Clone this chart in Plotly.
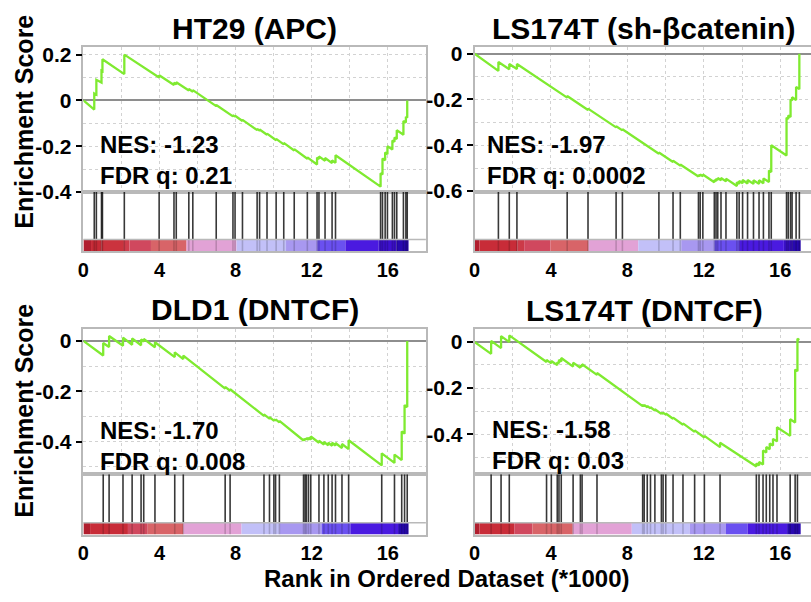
import plotly.graph_objects as go

# ---------------- data ----------------
titles = ["HT29 (APC)", "LS174T (sh-βcatenin)", "DLD1 (DNTCF)", "LS174T (DNTCF)"]
nes_labels = ["NES: -1.23", "NES: -1.97", "NES: -1.70", "NES: -1.58"]
fdr_labels = ["FDR q: 0.21", "FDR q: 0.0002", "FDR q: 0.008", "FDR q: 0.03"]

x_tick_vals = [0, 4, 8, 12, 16]
x_tick_text = ["0", "4", "8", "12", "16"]
y_ticks_p1 = [0.2, 0, -0.2, -0.4]
y_ticks_p2 = [0, -0.2, -0.4, -0.6]
y_ticks_p3 = [0, -0.2, -0.4]
y_ticks_p4 = [0, -0.2, -0.4]
y_text_p1 = ["0.2", "0", "-0.2", "-0.4"]
y_text_p2 = ["0", "-0.2", "-0.4", "-0.6"]
y_text_p3 = ["0", "-0.2", "-0.4"]
y_text_p4 = ["0", "-0.2", "-0.4"]

# gene-set hit positions (rank / 1000) and running ES just before / after each hit
p1_hits = [0.57, 0.68, 0.95, 1.00, 2.15, 3.98, 4.76, 4.88, 5.54, 5.75, 6.98, 7.86, 7.97, 8.36,
           9.13, 9.26, 9.65, 10.13, 10.53, 11.08, 11.77, 12.28, 12.38, 12.70, 13.07, 13.25,
           15.62, 15.72, 15.86, 15.98, 16.24, 16.35, 16.47, 16.82, 16.95, 17.02]
p1_pre = [-0.04, 0.025, 0.078, 0.128, 0.115, 0.10, 0.067, 0.070, 0.043, 0.038, -0.025, -0.07, -0.071, -0.09,
          -0.13, -0.132, -0.15, -0.174, -0.192, -0.219, -0.255, -0.28, -0.256, -0.264, -0.274, -0.273,
          -0.377, -0.324, -0.262, -0.235, -0.215, -0.181, -0.169, -0.15, -0.097, -0.076]
p1_post = [0.03, 0.09, 0.13, 0.18, 0.20, 0.11, 0.077, 0.079, 0.05, 0.045, -0.02, -0.065, -0.067, -0.085,
           -0.125, -0.127, -0.145, -0.168, -0.186, -0.213, -0.249, -0.25, -0.245, -0.252, -0.262, -0.24,
           -0.318, -0.254, -0.228, -0.20, -0.175, -0.162, -0.13, -0.09, -0.072, 0.0]

p2_hits = [1.25, 1.82, 2.22, 4.85, 5.94, 7.41, 7.74, 9.65, 10.39, 10.77, 11.72, 11.81, 11.95,
           12.55, 12.64, 12.73, 12.90, 13.16, 13.73, 13.85, 14.03, 14.29, 14.60, 14.89, 15.12,
           15.41, 15.53, 16.33, 16.42, 16.54, 16.62, 16.83, 17.00]
p2_pre = [-0.075, -0.068, -0.067, -0.192, -0.246, -0.322, -0.335, -0.437, -0.473, -0.489, -0.537, -0.535, -0.536,
          -0.562, -0.557, -0.552, -0.553, -0.558, -0.578, -0.569, -0.566, -0.567, -0.569, -0.569, -0.566,
          -0.561, -0.517, -0.445, -0.285, -0.277, -0.204, -0.202, -0.155]
p2_post = [-0.036, -0.045, -0.045, -0.185, -0.24, -0.317, -0.33, -0.432, -0.468, -0.484, -0.53, -0.528, -0.528,
           -0.552, -0.547, -0.543, -0.543, -0.546, -0.562, -0.556, -0.552, -0.552, -0.553, -0.553, -0.545,
           -0.51, -0.40, -0.28, -0.27, -0.20, -0.19, -0.145, 0.0]

p3_hits = [1.04, 1.35, 2.08, 2.56, 3.03, 3.17, 3.76, 4.80, 5.25, 7.45, 7.71, 9.49, 9.78, 10.01, 10.10,
           10.30, 11.57, 11.65, 11.72, 11.83, 11.95, 12.38, 12.64, 12.87, 13.07, 13.25, 13.59, 13.94,
           15.68, 16.35, 16.73, 16.88, 17.02]
p3_pre = [-0.058, -0.024, -0.019, -0.015, -0.017, -0.002, -0.025, -0.064, -0.072, -0.19, -0.198, -0.298, -0.309, -0.317, -0.317,
          -0.324, -0.396, -0.395, -0.393, -0.393, -0.392, -0.405, -0.412, -0.415, -0.417, -0.416, -0.426, -0.43,
          -0.495, -0.485, -0.474, -0.369, -0.263]
p3_post = [-0.008, 0.02, 0.013, 0.01, 0.006, 0.008, -0.005, -0.045, -0.058, -0.183, -0.192, -0.292, -0.303, -0.312, -0.312,
           -0.318, -0.39, -0.388, -0.386, -0.385, -0.38, -0.397, -0.402, -0.405, -0.405, -0.406, -0.41, -0.395,
           -0.447, -0.452, -0.36, -0.255, 0.0]

p4_hits = [0.87, 1.39, 1.82, 3.77, 4.02, 4.33, 4.42, 4.54, 5.16, 5.54, 5.63, 6.41, 8.80, 8.88, 9.04,
           9.21, 9.44, 9.78, 9.87, 10.01, 10.39, 10.91, 11.52, 12.03, 12.85, 14.75, 14.89, 15.10,
           15.27, 15.45, 15.62, 15.83, 16.52, 16.78, 16.90]
p4_pre = [-0.052, -0.027, -0.001, -0.087, -0.093, -0.101, -0.093, -0.085, -0.107, -0.112, -0.107, -0.143, -0.278, -0.278, -0.283,
          -0.288, -0.297, -0.312, -0.312, -0.315, -0.333, -0.359, -0.39, -0.414, -0.456, -0.54, -0.535, -0.531,
          -0.479, -0.465, -0.449, -0.431, -0.407, -0.349, -0.127]
p4_post = [0.004, 0.025, 0.028, -0.078, -0.083, -0.088, -0.078, -0.07, -0.09, -0.102, -0.097, -0.135, -0.273, -0.273, -0.278,
           -0.283, -0.292, -0.307, -0.307, -0.31, -0.328, -0.353, -0.383, -0.407, -0.437, -0.527, -0.52, -0.47,
           -0.455, -0.44, -0.42, -0.37, -0.335, -0.12, 0.013]
p4_tail_x = [17.0]
p4_tail_y = [0.008]

# ranked-list colour bar segments (edges in rank/1000)
p1_cb_edges = [0, 0.4, 0.95, 2.13, 2.42, 3.55, 5.42, 8.05, 10.65, 12.29, 13.77, 15.5, 16.45, 17.09]
p1_cb_colors = ["#b01e2e", "#c62a36", "#cb333e", "#cf3d4c", "#d0485e", "#d86468", "#e2a2d6",
                "#c2c0f8", "#a898f0", "#6a50f0", "#4a1ae0", "#3e10d0", "#2808b0"]
p2_cb_edges = [0, 0.26, 2.25, 2.6, 3.98, 5.97, 8.57, 10.82, 12.55, 13.85, 16.19, 16.62, 17.07]
p2_cb_colors = ["#b01e2e", "#c82c38", "#cc3a48", "#d0485e", "#d86468", "#e2a2d6", "#c2c0f8",
                "#a898f0", "#6a50f0", "#4a1ae0", "#3a10c8", "#2808b0"]
p3_cb_edges = [0, 0.35, 2.34, 3.38, 5.25, 8.31, 10.3, 12.52, 14.03, 16.54, 17.09]
p3_cb_colors = ["#b01e2e", "#c82c38", "#d0485e", "#d86468", "#e2a2d6", "#c2c0f8", "#a898f0",
                "#6a50f0", "#4a1ae0", "#2808b0"]
p4_cb_edges = [0, 0.26, 2.08, 3.03, 5.14, 8.23, 11.26, 13.16, 14.29, 16.36, 17.07]
p4_cb_colors = ["#b01e2e", "#c82c38", "#d0485e", "#d86468", "#e2a2d6", "#c2c0f8", "#a898f0",
                "#6a50f0", "#4a1ae0", "#2808b0"]

# ---------------- layout / styling ----------------
W, H = 811, 602
FONT = "Liberation Sans, Arial, sans-serif"
GREEN = "#7fea30"
FRAME = "#b9b9b9"
GRID = "#d2d2d2"

def fx(p):
    return p / W

def fy(p):
    return 1 - p / H

panels = [
    dict(hits=p1_hits, pre=p1_pre, post=p1_post, tx=[], ty=[], edges=p1_cb_edges, cols=p1_cb_colors,
         yt=y_ticks_p1, ytt=y_text_p1, x0=78, x1=423, top=43, bot=192, cbt=241, sb=253,
         xr=[0, 18], yr=[-0.4, 0.234], mirror=True, tcx=250, tcy=24, nx=93, ny=159),
    dict(hits=p2_hits, pre=p2_pre, post=p2_post, tx=[], ty=[], edges=p2_cb_edges, cols=p2_cb_colors,
         yt=y_ticks_p2, ytt=y_text_p2, x0=472, x1=811, top=43, bot=192, cbt=241, sb=253,
         xr=[0, 17.61], yr=[-0.604, 0.03], mirror=False, tcx=642, tcy=24, nx=483, ny=159),
    dict(hits=p3_hits, pre=p3_pre, post=p3_post, tx=[], ty=[], edges=p3_cb_edges, cols=p3_cb_colors,
         yt=y_ticks_p3, ytt=y_text_p3, x0=78, x1=423, top=333, bot=482, cbt=532, sb=544,
         xr=[0, 18], yr=[-0.53, 0.047], mirror=True, tcx=251, tcy=313, nx=93, ny=453),
    dict(hits=p4_hits, pre=p4_pre, post=p4_post, tx=p4_tail_x, ty=p4_tail_y, edges=p4_cb_edges, cols=p4_cb_colors,
         yt=y_ticks_p4, ytt=y_text_p4, x0=472, x1=811, top=333, bot=482, cbt=532, sb=544,
         xr=[0, 17.61], yr=[-0.573, 0.055], mirror=False, tcx=643, tcy=314, nx=488, ny=452),
]

fig = go.Figure()
layout = dict(
    width=W, height=H, margin=dict(l=0, r=0, t=0, b=0),
    paper_bgcolor="white", plot_bgcolor="white", showlegend=False,
    font=dict(family=FONT, color="black"), barmode="overlay",
)
annotations = []
shapes = []

for i, p in enumerate(panels):
    ea = 2 * i + 1
    sa = 2 * i + 2
    ex, ey = f"x{ea}", f"y{ea}"
    sx, sy = f"x{sa}", f"y{sa}"
    cbf = (p["sb"] - p["cbt"]) / (p["sb"] - p["bot"])

    # running enrichment score
    xs, ys = [0.0], [0.0]
    for h, a, b in zip(p["hits"], p["pre"], p["post"]):
        xs += [h, h]
        ys += [a, b]
    xs += p["tx"]
    ys += p["ty"]
    fig.add_trace(go.Scatter(x=xs, y=ys, mode="lines", line=dict(color=GREEN, width=2.3),
                             xaxis=ex, yaxis=ey, hoverinfo="skip"))

    # colour bar
    e = p["edges"]
    fig.add_trace(go.Bar(x=e[:-1], width=[e[k + 1] - e[k] for k in range(len(e) - 1)], offset=0,
                         y=[cbf] * (len(e) - 1), base=0, marker=dict(color=p["cols"], line=dict(width=0)),
                         xaxis=sx, yaxis=sy, hoverinfo="skip"))

    # hit lines
    hx, hy, cx, cy = [], [], [], []
    for h in p["hits"]:
        hx += [h, h, None]
        hy += [cbf, 1, None]
        cx += [h, h, None]
        cy += [0, cbf, None]
    fig.add_trace(go.Scatter(x=hx, y=hy, mode="lines", line=dict(color="rgba(0,0,0,0.78)", width=1.6),
                             xaxis=sx, yaxis=sy, hoverinfo="skip"))
    fig.add_trace(go.Scatter(x=cx, y=cy, mode="lines", line=dict(color="rgba(0,0,0,0.18)", width=1.6),
                             xaxis=sx, yaxis=sy, hoverinfo="skip"))

    dom_x = [fx(p["x0"]), fx(p["x1"])]
    layout[f"xaxis{ea}"] = dict(domain=dom_x, anchor=ey, range=p["xr"], showticklabels=False, ticks="",
                                showgrid=True, tick0=0, dtick=2, gridcolor=GRID, griddash="dot", gridwidth=1,
                                zeroline=False, showline=True, mirror=True, linecolor=FRAME, linewidth=1.5)
    layout[f"yaxis{ea}"] = dict(domain=[fy(p["bot"]), fy(p["top"])], anchor=ex, range=p["yr"],
                                tickmode="array", tickvals=p["yt"], ticktext=p["ytt"],
                                ticks="outside", ticklen=6, tickwidth=2, tickcolor="black",
                                tickfont=dict(family=FONT, size=21, color="black", weight="bold"),
                                showgrid=True, gridcolor=GRID, griddash="dot", gridwidth=1,
                                minor=dict(tickmode="linear", tick0=0, dtick=0.1, showgrid=True,
                                           gridcolor=GRID, griddash="dot", gridwidth=1, ticks=""),
                                zeroline=True, zerolinecolor="#8e8e8e", zerolinewidth=1.5,
                                showline=True, mirror=p["mirror"], linecolor=FRAME, linewidth=1.5)
    layout[f"xaxis{sa}"] = dict(domain=dom_x, anchor=sy, range=p["xr"], tickmode="array",
                                tickvals=x_tick_vals, ticktext=x_tick_text, ticks="",
                                tickfont=dict(family=FONT, size=20, color="black", weight="bold"),
                                showgrid=False, zeroline=False, showline=True, mirror=True,
                                linecolor=FRAME, linewidth=1.5)
    layout[f"yaxis{sa}"] = dict(domain=[fy(p["sb"]), fy(p["bot"])], anchor=sx, range=[0, 1],
                                showticklabels=False, ticks="", showgrid=False, zeroline=False,
                                showline=True, mirror=p["mirror"], linecolor=FRAME, linewidth=1.5)

    shapes.append(dict(type="line", xref=f"{sx} domain", yref=sy, x0=0, x1=1, y0=cbf, y1=cbf,
                       line=dict(color=FRAME, width=1.5), layer="above"))

    annotations.append(dict(text=f"<b>{titles[i]}</b>", x=fx(p["tcx"]), y=fy(p["tcy"]), xref="paper",
                            yref="paper", xanchor="center", yanchor="middle", showarrow=False,
                            font=dict(family=FONT, size=30, color="black")))
    annotations.append(dict(text=f"<b>{nes_labels[i]}<br>{fdr_labels[i]}</b>", x=fx(p["nx"]), y=fy(p["ny"]),
                            xref="paper", yref="paper", xanchor="left", yanchor="middle", align="left",
                            showarrow=False, font=dict(family=FONT, size=24, color="black")))

for yc in (120, 417):
    annotations.append(dict(text="<b>Enrichment Score</b>", x=fx(18), y=fy(yc), xref="paper", yref="paper",
                            xanchor="center", yanchor="middle", textangle=-90, showarrow=False,
                            font=dict(family=FONT, size=25, color="black")))
annotations.append(dict(text="<b>Rank in Ordered Dataset (*1000)</b>", x=fx(444), y=fy(589), xref="paper",
                        yref="paper", xanchor="center", yanchor="middle", showarrow=False,
                        font=dict(family=FONT, size=24, color="black")))

layout["annotations"] = annotations
layout["shapes"] = shapes
fig.update_layout(**layout)
fig.write_html("out.html", config={"displayModeBar": False},
               post_script="document.body.style.margin='0';document.body.style.overflow='hidden';")
